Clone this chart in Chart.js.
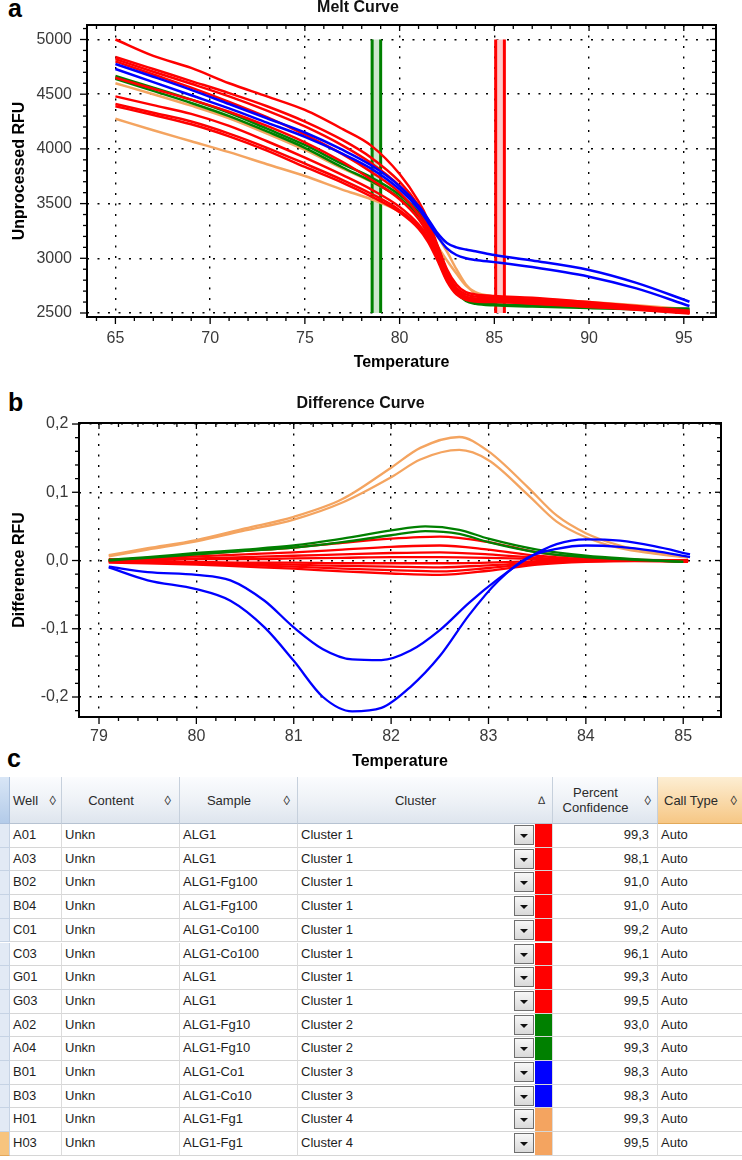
<!DOCTYPE html>
<html><head><meta charset="utf-8">
<script src="https://cdn.jsdelivr.net/npm/chart.js@4.4.1/dist/chart.umd.min.js"></script>
<style>
html,body{margin:0;padding:0;background:#fff;}
body{width:742px;height:1160px;position:relative;overflow:hidden;font-family:"Liberation Sans",Arial,sans-serif;}
canvas{position:absolute;left:0;}
.panel{position:absolute;font:bold 25px "Liberation Sans",Arial,sans-serif;line-height:25px;color:#000;}
#tbl{position:absolute;left:0;top:777px;width:742px;height:383px;}
.c{position:absolute;box-sizing:border-box;font-size:13px;color:#1e1e1e;white-space:nowrap;overflow:hidden;}
.h{background:linear-gradient(to bottom,#fbfcfe 0%,#edf1f6 55%,#dee5ee 100%);border-right:1px solid #c6d0dc;border-bottom:1px solid #b7c3d2;color:#2a2a2a;}
.hl{position:absolute;top:0;bottom:0;display:flex;align-items:center;line-height:15px;}
.mk{position:absolute;top:0;bottom:0;display:flex;align-items:center;font-size:13px;color:#333;}
.r{background:#fff;border-right:1px solid #dcdcdc;border-bottom:1px solid #d6d6d6;padding-left:3px;}
.strip{background:#e2eaf5;border-bottom:1px solid #c6d3e4;border-right:1px solid #c6d3e4;}
.btn{position:absolute;box-sizing:border-box;border:1px solid #6f6f6f;background:linear-gradient(#f7f7f7,#d9d9d9);}
.btn:after{content:"";position:absolute;left:5px;top:8px;border-left:4px solid transparent;border-right:4px solid transparent;border-top:4px solid #111;}
</style>
</head><body>
<div class="panel" style="left:8px;top:-4px;">a</div>
<div class="panel" style="left:8px;top:390px;">b</div>
<div class="panel" style="left:7px;top:746px;">c</div>
<canvas id="ca" width="742" height="380" style="top:0;"></canvas>
<canvas id="cb" width="742" height="387" style="top:388px;"></canvas>
<div id="tbl"></div>
<script>
// ---------------- DATA: panel a (Melt Curve) ----------------
const meltTemps = [65, 67, 69, 71, 73, 75, 77, 78.5, 80, 81, 81.5, 82, 82.5, 83, 83.5, 84, 85, 87, 90, 92.5, 95.3];
const meltRedA = [5000, 4850, 4740, 4600, 4480, 4356, 4180, 4030, 3770, 3520, 3350, 3120, 2900, 2760, 2690, 2670, 2655, 2640, 2600, 2565, 2520];
const meltRedB = [4840, 4730, 4620, 4510, 4390, 4250, 4080, 3920, 3700, 3480, 3320, 3100, 2880, 2730, 2670, 2650, 2640, 2620, 2590, 2550, 2510];
const meltRedC = [4820, 4705, 4595, 4480, 4350, 4205, 4030, 3870, 3660, 3450, 3290, 3080, 2860, 2710, 2650, 2630, 2620, 2605, 2575, 2545, 2505];
const meltRedD = [4800, 4680, 4560, 4430, 4290, 4130, 3950, 3790, 3600, 3400, 3250, 3050, 2840, 2700, 2640, 2620, 2610, 2595, 2565, 2540, 2500];
const meltRedE = [4650, 4550, 4450, 4340, 4210, 4060, 3880, 3720, 3540, 3360, 3220, 3040, 2830, 2700, 2645, 2630, 2625, 2610, 2580, 2550, 2510];
const meltRedF = [4480, 4400, 4320, 4210, 4070, 3920, 3760, 3630, 3470, 3310, 3190, 3010, 2810, 2685, 2635, 2620, 2612, 2598, 2568, 2540, 2505];
const meltRedG = [4410, 4330, 4250, 4140, 4010, 3865, 3715, 3590, 3440, 3290, 3170, 3000, 2800, 2680, 2630, 2615, 2605, 2590, 2560, 2535, 2500];
const meltRedH = [4390, 4310, 4225, 4115, 3985, 3835, 3690, 3565, 3420, 3270, 3150, 2980, 2790, 2670, 2620, 2605, 2600, 2585, 2555, 2530, 2495];
const meltBlue1 = [4776, 4660, 4540, 4410, 4280, 4150, 3990, 3850, 3660, 3480, 3360, 3230, 3140, 3100, 3080, 3065, 3030, 2980, 2893, 2775, 2603];
const meltBlue2 = [4730, 4610, 4490, 4370, 4240, 4110, 3955, 3820, 3630, 3450, 3330, 3200, 3090, 3030, 3000, 2985, 2965, 2920, 2832, 2725, 2564];
const meltGreen1 = [4666, 4560, 4450, 4330, 4185, 4036, 3860, 3740, 3580, 3420, 3300, 3110, 2880, 2700, 2620, 2595, 2580, 2570, 2555, 2545, 2540];
const meltGreen2 = [4640, 4530, 4420, 4300, 4160, 4010, 3830, 3705, 3550, 3390, 3270, 3080, 2860, 2690, 2610, 2585, 2570, 2560, 2545, 2535, 2530];
const meltOrange1 = [4600, 4500, 4395, 4280, 4140, 3990, 3820, 3700, 3560, 3420, 3330, 3200, 3060, 2900, 2760, 2680, 2640, 2620, 2590, 2560, 2530];
const meltOrange2 = [4276, 4170, 4070, 3970, 3860, 3752, 3626, 3540, 3425, 3300, 3228, 3110, 2980, 2860, 2750, 2690, 2650, 2630, 2600, 2570, 2535];
const meltMarkerGreen = [78.55, 79.0];
const meltMarkerRed = [85.07, 85.53];
const meltMarkerRFU = [2500, 5000];
const meltXTicks = [65, 70, 75, 80, 85, 90, 95];
const meltXLabels = ['65', '70', '75', '80', '85', '90', '95'];
const meltYTicks = [2500, 3000, 3500, 4000, 4500, 5000];
const meltYLabels = ['2500', '3000', '3500', '4000', '4500', '5000'];

// ---------------- DATA: panel b (Difference Curve) ----------------
const diffOrangeTemps = [79.1, 79.5, 80, 80.5, 81, 81.5, 82, 82.3, 82.7, 83, 83.4, 83.7, 84, 84.35, 84.7, 85.05];
const diffOrange1 = [0.008, 0.018, 0.030, 0.047, 0.064, 0.090, 0.136, 0.165, 0.181, 0.160, 0.108, 0.066, 0.040, 0.022, 0.012, 0.005];
const diffOrange2 = [0.006, 0.016, 0.028, 0.044, 0.060, 0.085, 0.122, 0.148, 0.162, 0.147, 0.097, 0.057, 0.034, 0.018, 0.010, 0.004];
const diffGreenTemps = [79.1, 79.5, 80, 80.5, 81, 81.5, 82, 82.35, 82.7, 83, 83.5, 84, 84.5, 85.0];
const diffGreen1 = [0.001, 0.005, 0.011, 0.016, 0.022, 0.032, 0.044, 0.050, 0.045, 0.032, 0.016, 0.007, 0.002, -0.002];
const diffGreen2 = [0.000, 0.004, 0.009, 0.014, 0.019, 0.027, 0.037, 0.043, 0.039, 0.027, 0.012, 0.005, 0.001, -0.002];
const diffRedTemps = [79.1, 79.5, 80, 80.5, 81, 81.5, 82, 82.5, 83, 83.5, 84, 84.5, 85.05];
const diffRed1 = [0.000, 0.004, 0.009, 0.014, 0.019, 0.026, 0.032, 0.035, 0.027, 0.012, 0.004, 0.001, 0.000];
const diffRed2 = [0.000, 0.003, 0.006, 0.009, 0.012, 0.016, 0.020, 0.022, 0.016, 0.007, 0.002, 0.001, 0.000];
const diffRed3 = [0.000, 0.001, 0.003, 0.005, 0.007, 0.009, 0.011, 0.012, 0.009, 0.004, 0.001, 0.000, 0.000];
const diffRed4 = [0.002, 0.001, 0.002, 0.002, 0.003, 0.004, 0.005, 0.005, 0.004, 0.002, 0.001, 0.000, 0.000];
const diffRed5 = [-0.001, -0.001, -0.002, -0.003, -0.003, -0.004, -0.004, -0.004, -0.003, -0.001, 0.000, 0.000, 0.000];
const diffRed6 = [-0.001, -0.002, -0.003, -0.005, -0.006, -0.008, -0.009, -0.010, -0.007, -0.003, -0.001, 0.000, 0.000];
const diffRed7 = [-0.002, -0.003, -0.005, -0.007, -0.009, -0.012, -0.014, -0.016, -0.011, -0.004, -0.001, 0.000, -0.001];
const diffRed8 = [-0.003, -0.004, -0.006, -0.009, -0.012, -0.016, -0.019, -0.021, -0.015, -0.006, -0.002, -0.001, -0.002];
const diffBlueTemps = [79.1, 79.5, 80, 80.35, 80.7, 81, 81.3, 81.6, 81.9, 82.2, 82.5, 82.8, 83.1, 83.4, 83.7, 84, 84.35, 84.7, 85.07];
const diffBlue1 = [-0.009, -0.017, -0.021, -0.029, -0.059, -0.098, -0.130, -0.145, -0.146, -0.132, -0.102, -0.062, -0.027, 0.003, 0.024, 0.031, 0.029, 0.021, 0.009];
const diffBlue2 = [-0.010, -0.029, -0.042, -0.059, -0.098, -0.147, -0.200, -0.221, -0.216, -0.185, -0.140, -0.080, -0.030, 0.004, 0.017, 0.022, 0.020, 0.014, 0.005];
const diffXTicks = [79, 80, 81, 82, 83, 84, 85];
const diffXLabels = ['79', '80', '81', '82', '83', '84', '85'];
const diffYTicks = [-0.2, -0.1, 0, 0.1, 0.2];
const diffYLabels = ['-0,2', '-0,1', '0,0', '0,1', '0,2'];

// ---------------- DATA: panel c (table) ----------------
const wells = ['A01','A03','B02','B04','C01','C03','G01','G03','A02','A04','B01','B03','H01','H03'];
const contents = ['Unkn','Unkn','Unkn','Unkn','Unkn','Unkn','Unkn','Unkn','Unkn','Unkn','Unkn','Unkn','Unkn','Unkn'];
const samples = ['ALG1','ALG1','ALG1-Fg100','ALG1-Fg100','ALG1-Co100','ALG1-Co100','ALG1','ALG1','ALG1-Fg10','ALG1-Fg10','ALG1-Co1','ALG1-Co10','ALG1-Fg1','ALG1-Fg1'];
const clusters = ['Cluster 1','Cluster 1','Cluster 1','Cluster 1','Cluster 1','Cluster 1','Cluster 1','Cluster 1','Cluster 2','Cluster 2','Cluster 3','Cluster 3','Cluster 4','Cluster 4'];
const confidences = ['99,3','98,1','91,0','91,0','99,2','96,1','99,3','99,5','93,0','99,3','98,3','98,3','99,3','99,5'];
const callTypes = ['Auto','Auto','Auto','Auto','Auto','Auto','Auto','Auto','Auto','Auto','Auto','Auto','Auto','Auto'];
const headers = ['Well','Content','Sample','Cluster','Percent\nConfidence','Call Type'];
const selectedWell = 'H03';

// ---------------- styles ----------------
const RED = '#ff0000', GREEN = '#008000', BLUE = '#0000ff', ORANGE = '#f4a460';
const clusterColors = {'Cluster 1': RED, 'Cluster 2': GREEN, 'Cluster 3': BLUE, 'Cluster 4': ORANGE};
const FONT = '"Liberation Sans", Arial, sans-serif';

function series(temps, vals, color, width) {
  return {data: temps.map((t, i) => ({x: t, y: vals[i]})), borderColor: color, borderWidth: width,
    pointRadius: 0, cubicInterpolationMode: 'monotone', fill: false};
}
function near(v, arr) { return arr.findIndex(a => Math.abs(a - v) < 1e-6); }

const bandPlugin = {
  id: 'bands',
  beforeDatasetsDraw(chart, args, opts) {
    if (!opts.bands) return;
    const {ctx, scales: {x, y}} = chart;
    opts.bands.forEach(b => {
      const x1 = x.getPixelForValue(b.range[0]), x2 = x.getPixelForValue(b.range[1]);
      const y1 = y.getPixelForValue(b.yRange[1]), y2 = y.getPixelForValue(b.yRange[0]);
      ctx.save();
      ctx.fillStyle = b.fill;
      ctx.fillRect(x1, y1, x2 - x1, y2 - y1);
      ctx.strokeStyle = b.edge; ctx.lineWidth = 3;
      ctx.beginPath(); ctx.moveTo(x1, y1); ctx.lineTo(x1, y2); ctx.moveTo(x2, y1); ctx.lineTo(x2, y2); ctx.stroke();
      ctx.restore();
    });
  }
};
const framePlugin = {
  id: 'frame',
  afterDatasetsDraw(chart, args, opts) {
    const {ctx, chartArea: a, scales: {x, y}} = chart;
    ctx.save();
    ctx.strokeStyle = '#000';
    ctx.lineWidth = 1.3;
    const seg = (x1, y1, x2, y2) => { ctx.beginPath(); ctx.moveTo(x1, y1); ctx.lineTo(x2, y2); ctx.stroke(); };
    x.ticks.forEach(t => {
      const px = x.getPixelForValue(t.value);
      if (px < a.left + 1 || px > a.right - 1) return;
      const major = near(t.value, opts.xMajor) >= 0;
      seg(px, a.bottom, px, a.bottom + (major ? 7 : 4));
      seg(px, a.top, px, a.top + (major ? 6 : 4));
    });
    y.ticks.forEach(t => {
      const py = y.getPixelForValue(t.value);
      if (py < a.top + 1 || py > a.bottom - 1) return;
      const major = near(t.value, opts.yMajor) >= 0;
      seg(a.left - (major ? 7 : 4), py, a.left, py);
      seg(a.right - (major ? 6 : 4), py, a.right, py);
    });
    ctx.lineWidth = 2;
    ctx.strokeRect(a.left, a.top, a.right - a.left, a.bottom - a.top);
    ctx.restore();
  }
};

function axisX(min, max, step, majors, labels, lblPad, titlePadBottom) {
  return {
    type: 'linear', min: min, max: max,
    ticks: {stepSize: step, includeBounds: false, autoSkip: false, maxRotation: 0, padding: lblPad,
      color: '#3a3a3a', font: {family: FONT, size: 16},
      callback: v => { const i = near(v, majors); return i >= 0 ? labels[i] : ''; }},
    grid: {drawTicks: false, lineWidth: 1.4,
      color: c => (c.tick && near(c.tick.value, majors) >= 0) ? '#000' : 'rgba(0,0,0,0)'},
    border: {display: false, dash: [2, 8.5]},
    title: {display: true, text: 'Temperature', color: '#000', font: {family: FONT, size: 16, weight: 'bold'},
      padding: {top: 0, bottom: titlePadBottom}}
  };
}
function axisY(min, max, step, majors, labels, lblPad, title) {
  return {
    type: 'linear', min: min, max: max,
    ticks: {stepSize: step, includeBounds: false, autoSkip: false, padding: lblPad,
      color: '#3a3a3a', font: {family: FONT, size: 16},
      callback: v => { const i = near(v, majors); return i >= 0 ? labels[i] : ''; }},
    grid: {drawTicks: false, lineWidth: 1.4,
      color: c => (c.tick && near(c.tick.value, majors) >= 0) ? '#000' : 'rgba(0,0,0,0)'},
    border: {display: false, dash: [2, 8.5]},
    title: {display: true, text: title, color: '#000', font: {family: FONT, size: 16, weight: 'bold'},
      padding: {top: 10.4, bottom: 0}}
  };
}

// ---------------- chart a ----------------
const xa = axisX(63.5, 96.7, 1, meltXTicks, meltXLabels, 12.4, 7.4);
xa.afterFit = s => { s.height = 63; };
const ya = axisY(2463.4, 5132.5, 100, meltYTicks, meltYLabels, 15, 'Unprocessed RFU');
ya.afterFit = s => { s.width = 87; };
new Chart(document.getElementById('ca'), {
  type: 'line',
  data: {datasets: [
    series(meltTemps, meltBlue1, BLUE, 2.5),
    series(meltTemps, meltBlue2, BLUE, 2.5),
    series(meltTemps, meltRedA, RED, 2.5),
    series(meltTemps, meltRedB, RED, 2.5),
    series(meltTemps, meltRedC, RED, 2.5),
    series(meltTemps, meltRedD, RED, 2.5),
    series(meltTemps, meltRedE, RED, 2.5),
    series(meltTemps, meltRedF, RED, 2.5),
    series(meltTemps, meltRedG, RED, 2.5),
    series(meltTemps, meltRedH, RED, 2.5),
    series(meltTemps, meltGreen1, GREEN, 2.5),
    series(meltTemps, meltGreen2, GREEN, 2.5),
    series(meltTemps, meltOrange1, ORANGE, 2.5),
    series(meltTemps, meltOrange2, ORANGE, 2.5)
  ]},
  options: {
    responsive: false, animation: false, devicePixelRatio: 1, events: [],
    layout: {padding: {left: 0, right: 26, top: 0, bottom: 0}},
    scales: {x: xa, y: ya},
    plugins: {
      legend: {display: false}, tooltip: {enabled: false},
      title: {display: true, text: 'Melt Curve', color: '#111', font: {family: FONT, size: 16, weight: 'bold', lineHeight: 1},
        padding: {top: 0, bottom: 9}},
      bands: {bands: [
        {range: meltMarkerGreen, yRange: meltMarkerRFU, fill: '#cfe7cf', edge: GREEN},
        {range: meltMarkerRed, yRange: meltMarkerRFU, fill: '#ffc9c9', edge: RED}
      ]},
      frame: {xMajor: meltXTicks, yMajor: meltYTicks}
    }
  },
  plugins: [bandPlugin, framePlugin]
});

// ---------------- chart b ----------------
const xb = axisX(78.7945, 85.388, 0.2, diffXTicks, diffXLabels, 10.4, 3.4);
xb.afterFit = s => { s.height = 58; };
const yb = axisY(-0.2293, 0.2015, 0.02, diffYTicks, diffYLabels, 10.7, 'Difference RFU');
yb.afterFit = s => { s.width = 79; };
new Chart(document.getElementById('cb'), {
  type: 'line',
  data: {datasets: [
    series(diffBlueTemps, diffBlue1, BLUE, 2.3),
    series(diffBlueTemps, diffBlue2, BLUE, 2.3),
    series(diffGreenTemps, diffGreen1, GREEN, 2.3),
    series(diffGreenTemps, diffGreen2, GREEN, 2.3),
    series(diffOrangeTemps, diffOrange1, ORANGE, 2.3),
    series(diffOrangeTemps, diffOrange2, ORANGE, 2.3),
    series(diffRedTemps, diffRed1, RED, 2.3),
    series(diffRedTemps, diffRed2, RED, 2.3),
    series(diffRedTemps, diffRed3, RED, 2.3),
    series(diffRedTemps, diffRed4, RED, 2.3),
    series(diffRedTemps, diffRed5, RED, 2.3),
    series(diffRedTemps, diffRed6, RED, 2.3),
    series(diffRedTemps, diffRed7, RED, 2.3),
    series(diffRedTemps, diffRed8, RED, 2.3)
  ]},
  options: {
    responsive: false, animation: false, devicePixelRatio: 1, events: [],
    layout: {padding: {left: 0, right: 21, top: 8, bottom: 0}},
    scales: {x: xb, y: yb},
    plugins: {
      legend: {display: false}, tooltip: {enabled: false},
      title: {display: true, text: 'Difference Curve', color: '#111', font: {family: FONT, size: 16, weight: 'bold', lineHeight: 1},
        padding: {top: 0, bottom: 11}},
      frame: {xMajor: diffXTicks, yMajor: diffYTicks}
    }
  },
  plugins: [framePlugin]
});

// ---------------- table c ----------------
(function buildTable() {
  const tbl = document.getElementById('tbl');
  const colX = [0, 10, 62, 180, 298, 553, 658, 742];
  const headH = 47, rowH = 23.7;
  const add = (cls, l, t, w, h, html, style) => {
    const d = document.createElement('div');
    d.className = 'c ' + cls;
    d.style.left = l + 'px'; d.style.top = t + 'px'; d.style.width = w + 'px'; d.style.height = h + 'px';
    if (style) d.style.cssText += style;
    if (html !== undefined) d.innerHTML = html;
    tbl.appendChild(d);
    return d;
  };
  // header
  add('', 0, 0, 10, headH, '', 'background:linear-gradient(#d9e6f6,#b3cbe9);border-right:1px solid #a9bfdc;border-bottom:1px solid #a9bfdc;');
  const hdrCfg = [
    {align: 'left', pad: 3, mk: '\u25CA', mkRight: 5},
    {align: 'center', mk: '\u25CA', mkRight: 8},
    {align: 'center', mk: '\u25CA', mkRight: 7},
    {align: 'center', mk: '\u2206', mkRight: 7},
    {align: 'center', mk: '\u25CA', mkRight: 6},
    {align: 'left', pad: 6, mk: '\u25CA', mkRight: 5}
  ];
  headers.forEach((txt, i) => {
    const l = colX[i + 1], w = colX[i + 2] - l;
    const cfg = hdrCfg[i];
    const extra = i === 5 ? 'background:linear-gradient(#fdeed3,#f6c785);border-right:none;border-bottom:1px solid #e2a95a;' : '';
    const d = add('h', l, 0, w, headH, '', extra);
    const lab = document.createElement('div');
    lab.className = 'hl';
    if (cfg.align === 'center') { lab.style.left = '0'; lab.style.width = (w - 20) + 'px'; lab.style.justifyContent = 'center'; lab.style.textAlign = 'center'; }
    else { lab.style.left = cfg.pad + 'px'; }
    lab.innerHTML = txt.replace('\n', '<br>');
    d.appendChild(lab);
    const mk = document.createElement('div');
    mk.className = 'mk';
    mk.style.right = cfg.mkRight + 'px';
    if (cfg.mk === '\u2206') mk.style.fontSize = '11px';
    mk.textContent = cfg.mk;
    d.appendChild(mk);
  });
  // rows
  wells.forEach((w, r) => {
    const top = headH + r * rowH;
    const sel = w === selectedWell;
    add('strip', 0, top, 10, rowH, '', sel ? 'background:#f7c47e;border-bottom-color:#e3a85c;' : '');
    const lh = 'line-height:' + (rowH - 1) + 'px;';
    add('r', colX[1], top, colX[2] - colX[1], rowH, w, lh);
    add('r', colX[2], top, colX[3] - colX[2], rowH, contents[r], lh);
    add('r', colX[3], top, colX[4] - colX[3], rowH, samples[r], lh);
    const cl = add('r', colX[4], top, colX[5] - colX[4], rowH, clusters[r], lh);
    const btn = document.createElement('div');
    btn.className = 'btn';
    btn.style.cssText = 'left:' + (514 - colX[4]) + 'px;top:1px;width:20px;height:20px;';
    cl.appendChild(btn);
    const sw = document.createElement('div');
    sw.style.cssText = 'position:absolute;left:' + (535 - colX[4]) + 'px;top:0;width:17px;height:' + (rowH - 1) + 'px;background:' + clusterColors[clusters[r]] + ';';
    cl.appendChild(sw);
    add('r', colX[5], top, colX[6] - colX[5], rowH, confidences[r], lh + 'text-align:right;padding-right:8px;');
    add('r', colX[6], top, colX[7] - colX[6], rowH, callTypes[r], lh + 'border-right:none;');
  });
})();
</script>
</body></html>
